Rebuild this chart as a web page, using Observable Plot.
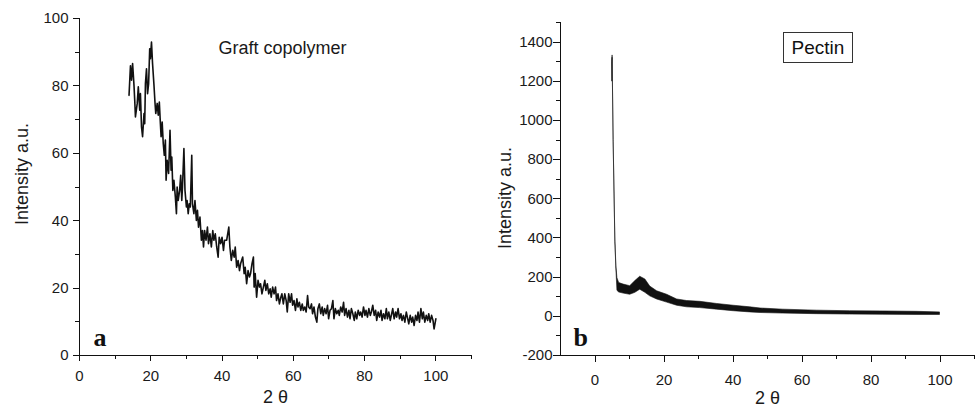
<!DOCTYPE html>
<html><head><meta charset="utf-8">
<script src="https://cdn.jsdelivr.net/npm/d3@7"></script>
<script src="https://cdn.jsdelivr.net/npm/@observablehq/plot@0.6"></script>
<style>
body{margin:0;background:#fff;}
#wrap{position:relative;width:979px;height:412px;display:flex;background:#fff;}
#wrap svg{display:block;}
#pectin{position:absolute;left:783px;top:32px;width:70px;height:31px;border:1px solid #333;box-sizing:border-box;font:19px "Liberation Sans",Arial,sans-serif;display:flex;align-items:center;justify-content:center;color:#111;}
</style></head><body><div id="wrap"></div>
<script>
// ---- Panel a: Graft copolymer ----
const twoThetaA = [
13.9,14.3,14.6,14.9,15.3,15.5,15.7,16.2,16.5,16.9,
17.1,17.4,17.7,18.1,18.3,18.5,18.8,19.1,19.4,19.7,
19.9,20.2,20.5,20.9,21.2,21.4,21.8,22.1,22.4,22.7,
22.9,23.2,23.5,23.8,24.1,24.3,24.6,25.0,25.4,25.7,
25.9,26.2,26.5,26.9,27.2,27.4,27.7,28.1,28.4,28.7,
28.9,29.3,29.6,30.0,30.2,30.5,30.8,31.1,31.5,31.7,
32.1,32.4,32.8,33.1,33.4,33.8,34.2,34.5,34.8,35.1,
35.5,35.9,36.2,36.6,37.0,37.4,37.7,38.1,38.5,38.9,
39.2,39.6,40.0,40.4,40.7,41.3,41.9,42.2,42.6,43.0,
43.4,43.7,44.1,44.5,44.9,45.2,45.8,46.2,46.5,46.9,
47.3,47.7,48.0,48.4,48.8,49.0,49.3,49.7,
50.1,50.5,50.8,51.2,51.6,52.0,52.3,52.7,53.1,53.5,
53.8,54.2,54.6,55.0,55.3,55.7,56.1,56.5,56.8,57.2,
57.6,58.0,58.3,58.7,59.1,59.5,59.8,60.2,60.6,61.0,
61.3,61.7,62.1,62.5,62.8,63.2,63.6,64.0,64.3,64.7,
65.1,65.4,65.8,66.2,66.6,66.9,67.3,67.7,68.1,68.4,
68.8,69.2,69.6,69.9,70.3,70.7,71.1,71.4,71.8,72.2,
72.6,72.9,73.3,73.7,74.1,74.4,74.8,75.2,75.6,75.9,
76.3,76.7,77.1,77.4,77.8,78.2,78.6,78.9,79.3,79.7,
80.1,80.4,80.8,81.2,81.6,81.9,82.3,82.7,83.1,83.4,
83.8,84.2,84.6,84.9,85.3,85.7,86.1,86.4,86.8,87.2,
87.6,87.9,88.3,88.7,89.0,89.4,89.8,90.2,90.5,90.9,
91.3,91.7,92.0,92.4,92.8,93.2,93.5,93.9,94.3,94.7,
95.0,95.4,95.8,96.2,96.5,96.9,97.3,97.7,98.0,98.4,
98.8,99.2,99.5,100.0];
const intensityA = [
77.2,86.0,81.7,86.6,80.0,75.7,70.8,74.8,79.7,72.8,
77.7,67.8,64.9,71.8,68.8,80.7,85.1,77.7,80.7,91.0,
88.1,93.0,86.6,80.2,74.8,71.8,74.8,71.3,75.2,68.8,
64.9,69.3,62.9,59.4,63.9,52.0,57.9,54.0,66.8,55.0,
58.9,49.0,52.0,47.0,42.1,50.0,46.0,49.0,53.5,46.0,
50.0,61.4,49.0,44.1,46.0,42.1,45.0,44.1,59.4,45.0,
42.1,46.0,40.1,43.1,38.1,41.1,34.2,37.1,32.2,37.1,
34.2,38.1,33.2,36.1,32.2,37.1,34.2,36.1,32.2,29.2,
35.1,33.2,35.1,31.2,34.2,34.2,38.1,32.2,28.2,31.2,
29.2,32.2,26.2,28.2,25.2,27.2,29.2,24.3,26.2,21.3,
25.2,23.3,24.3,27.2,29.2,20.3,24.3,17.3,
22.3,20.3,21.3,18.3,20.3,22.3,19.3,21.3,18.3,19.8,
17.3,20.3,18.3,20.3,16.3,18.3,15.3,17.3,18.3,15.3,
18.3,16.3,12.9,18.3,15.8,18.3,14.9,16.3,13.4,16.8,
14.4,15.8,13.4,15.3,13.4,14.4,12.9,17.8,14.4,13.9,
15.3,12.4,14.4,11.4,9.9,13.9,15.3,12.4,14.4,11.9,
13.9,12.4,14.9,10.9,13.4,13.9,16.3,10.9,13.9,12.4,
13.4,11.9,14.4,12.9,15.8,11.9,13.9,11.4,13.4,10.9,
13.9,12.4,10.4,12.9,10.9,13.4,11.9,12.9,11.4,14.4,
11.9,13.4,11.4,13.9,11.9,12.9,14.9,11.9,13.4,10.4,
12.9,11.4,13.4,10.4,12.4,10.9,13.9,10.9,12.9,10.4,
12.4,13.9,10.9,12.9,11.4,13.9,10.9,12.4,10.4,11.9,
9.9,12.9,11.4,9.4,11.9,9.9,11.4,8.9,11.9,10.4,
12.9,9.9,13.9,10.9,12.9,9.9,11.9,10.4,12.4,9.9,
11.9,10.4,7.9,10.9];
const xMajorA = [0,20,40,60,80,100];
const xMinorA = [10,30,50,70,90,110];
const yMajorA = [0,20,40,60,80,100];
const yMinorA = [10,30,50,70,90];

// ---- Panel b: Pectin (noisy trace drawn as its lower/upper envelope) ----
const twoThetaB = [5.0,5.1,5.4,5.9,6.2,6.5,7.0,8.3,10.2,11.7,13.1,14.6,16.0,18.0,20.9,23.8,26.7,30.5,35.4,40.2,45.0,48.0,54.6,64.3,73.9,83.6,93.2,100.0];
const lowB  = [1200,1320,890,380,240,130,122,116,110,120,136,120,102,86,70,54,46,42,34,26,20,17,14,11,9,8,7,7];
const highB = [1300,1332,900,392,255,195,170,162,154,180,202,188,152,128,110,86,78,74,63,54,46,40,34,29,26,25,23,20];
const xMajorB = [0,20,40,60,80,100];
const xMinorB = [10,30,50,70,90,110];
const yMajorB = [-200,0,200,400,600,800,1000,1200,1400];
const yMinorB = [-100,100,300,500,700,900,1100,1300,1500];

const sans = '"Liberation Sans", Arial, sans-serif';
const serif = '"Liberation Serif", "Times New Roman", serif';
const ink = "#1a1a1a";
const axisInk = "#111";
const ax = {stroke: axisInk, strokeWidth: 1, shapeRendering: "crispEdges"};
const fmt = d => String(d);

const idxA = d3.range(twoThetaA.length);
const idxB = d3.range(twoThetaB.length);

const plotA = Plot.plot({
  width: 480, height: 412,
  marginLeft: 79, marginRight: 9, marginTop: 18, marginBottom: 57,
  style: {fontFamily: sans, fontSize: "15px", color: ink, background: "#fff", overflow: "visible"},
  x: {domain: [0, 110]},
  y: {domain: [0, 100]},
  marks: [
    Plot.axisX(xMajorA, {...ax, tickSize: 6, tickPadding: 9, tickFormat: fmt, label: null}),
    Plot.axisX(xMinorA, {...ax, tickSize: 4, tickFormat: () => "", label: null}),
    Plot.axisY(yMajorA, {...ax, tickSize: 6, tickPadding: 5, tickFormat: fmt, label: null}),
    Plot.axisY(yMinorA, {...ax, tickSize: 4, tickFormat: () => "", label: null}),
    Plot.ruleX([0], ax),
    Plot.ruleY([0], ax),
    Plot.line(idxA, {x: i => twoThetaA[i], y: i => intensityA[i], stroke: "#111", strokeWidth: 1.6}),
    Plot.text(["Graft copolymer"], {text: d => d, frameAnchor: "top-left", dx: 139, dy: 30, textAnchor: "start", lineAnchor: "middle", fontSize: 18, fill: ink}),
    Plot.text(["a"], {text: d => d, frameAnchor: "bottom-left", dx: 14, dy: -10, textAnchor: "start", lineAnchor: "bottom", fontSize: 26, fontWeight: "bold", fontFamily: serif, fill: "#111"}),
    Plot.text(["Intensity a.u."], {text: d => d, frameAnchor: "left", dx: -57, dy: -13, rotate: -90, textAnchor: "middle", lineAnchor: "middle", fontSize: 18, fill: ink}),
    Plot.text(["2 θ"], {text: d => d, frameAnchor: "bottom", dy: 42, textAnchor: "middle", lineAnchor: "middle", fontSize: 18, fill: ink})
  ]
});

const plotB = Plot.plot({
  width: 499, height: 412,
  marginLeft: 80, marginRight: 5, marginTop: 22, marginBottom: 57,
  style: {fontFamily: sans, fontSize: "15px", color: ink, background: "#fff", overflow: "visible"},
  x: {domain: [-10, 110]},
  y: {domain: [-200, 1500]},
  marks: [
    Plot.axisX(xMajorB, {...ax, tickSize: 7, tickPadding: 12, tickFormat: fmt, label: null}),
    Plot.axisX(xMinorB, {...ax, tickSize: 4, tickFormat: () => "", label: null}),
    Plot.axisY(yMajorB, {...ax, tickSize: 7, tickPadding: 1, tickFormat: fmt, label: null}),
    Plot.axisY(yMinorB, {...ax, tickSize: 4, tickFormat: () => "", label: null}),
    Plot.ruleX([-10], ax),
    Plot.ruleY([-200], ax),
    Plot.areaY(idxB, {x: i => twoThetaB[i], y1: i => lowB[i], y2: i => highB[i], fill: "#111", stroke: "#111", strokeWidth: 0.6}),
    Plot.text(["b"], {text: d => d, frameAnchor: "bottom-left", dx: 13, dy: -10, textAnchor: "start", lineAnchor: "bottom", fontSize: 26, fontWeight: "bold", fontFamily: serif, fill: "#111"}),
    Plot.text(["Intensity a.u."], {text: d => d, frameAnchor: "left", dx: -55, dy: 9, rotate: -90, textAnchor: "middle", lineAnchor: "middle", fontSize: 18, fill: ink}),
    Plot.text(["2 θ"], {text: d => d, frameAnchor: "bottom", dy: 43, textAnchor: "middle", lineAnchor: "middle", fontSize: 18, fill: ink})
  ]
});

const wrap = document.getElementById("wrap");
wrap.appendChild(plotA);
wrap.appendChild(plotB);
const box = document.createElement("div");
box.id = "pectin";
box.textContent = "Pectin";
wrap.appendChild(box);
</script>
</body></html>
